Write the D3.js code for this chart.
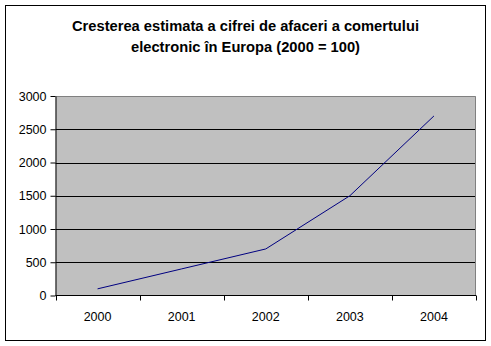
<!DOCTYPE html>
<html>
<head>
<meta charset="utf-8">
<script src="https://cdn.jsdelivr.net/npm/d3@7"></script>
<style>
  html, body { margin: 0; padding: 0; background: #fff; }
  svg { display: block; }
  text { font-family: Arial, "Liberation Sans", sans-serif; fill: #000; }
</style>
</head>
<body>
<svg id="chart" width="491" height="346"></svg>
<script>
// Series: estimated e-commerce turnover growth in Europe (index, 2000 = 100)
const years = ["2000", "2001", "2002", "2003", "2004"];
const values = [100, 400, 700, 1500, 2700];
const yTicks = [0, 500, 1000, 1500, 2000, 2500, 3000];
const titleLines = ["Cresterea estimata a cifrei de afaceri a comertului",
                    "electronic în Europa (2000 = 100)"];

const svg = d3.select("#chart");
const plot = { left: 55.5, right: 476, top: 96, bottom: 295.5 };

// Outer chart frame
svg.append("rect")
  .attr("x", 5.5).attr("y", 5.5)
  .attr("width", 480).attr("height", 335)
  .attr("fill", "#fff").attr("stroke", "#000").attr("stroke-width", 1);

// Title
svg.append("g").selectAll("text")
  .data(titleLines).join("text")
  .attr("x", 245.5)
  .attr("y", (d, i) => 31 + i * 20.5)
  .attr("text-anchor", "middle")
  .style("font-size", "14.7px")
  .style("font-weight", "bold")
  .text(d => d);

const x = d3.scaleBand().domain(years).range([plot.left, plot.right]).padding(0);
const y = d3.scaleLinear().domain([0, 3000]).range([plot.bottom, plot.top]);

// Plot area background
svg.append("rect")
  .attr("x", plot.left).attr("y", plot.top)
  .attr("width", plot.right - plot.left).attr("height", plot.bottom - plot.top)
  .attr("fill", "#c0c0c0");

// Horizontal gridlines
svg.append("g").selectAll("line")
  .data(yTicks.filter(v => v > 0 && v < 3000)).join("line")
  .attr("x1", plot.left).attr("x2", plot.right)
  .attr("y1", d => Math.round(y(d)) + 0.5).attr("y2", d => Math.round(y(d)) + 0.5)
  .attr("stroke", "#000").attr("stroke-width", 1);

// Plot area border (top / right)
svg.append("path")
  .attr("d", `M${plot.left},${plot.top + 0.5}H${plot.right - 0.5}V${plot.bottom}`)
  .attr("fill", "none").attr("stroke", "#808080").attr("stroke-width", 1);

// Y axis
const yAxis = d3.axisLeft(y).tickValues(yTicks).tickFormat(d3.format("d"))
  .tickSize(5).tickPadding(4).tickSizeOuter(0);
const gy = svg.append("g").attr("transform", `translate(${plot.left},0)`).call(yAxis);
gy.select(".domain").attr("stroke", "#000");
gy.selectAll(".tick line").attr("stroke", "#000");
gy.selectAll(".tick text").style("font-size", "12.5px")
  .style("font-family", "Arial, 'Liberation Sans', sans-serif").attr("fill", "#000");

// X axis: ticks on category boundaries
const boundaries = years.map(d => x(d)).concat([plot.right]);
const gx = svg.append("g");
gx.append("line")
  .attr("x1", plot.left).attr("x2", plot.right)
  .attr("y1", plot.bottom).attr("y2", plot.bottom)
  .attr("stroke", "#000");
gx.selectAll("line.tk").data(boundaries).join("line")
  .attr("class", "tk")
  .attr("x1", d => Math.round(d) + 0.5).attr("x2", d => Math.round(d) + 0.5)
  .attr("y1", plot.bottom).attr("y2", plot.bottom + 5)
  .attr("stroke", "#000");
gx.selectAll("text").data(years).join("text")
  .attr("x", d => x(d) + x.bandwidth() / 2)
  .attr("y", 321)
  .attr("text-anchor", "middle")
  .style("font-size", "12.5px")
  .text(d => d);

// Data line
const line = d3.line()
  .x((d, i) => x(years[i]) + x.bandwidth() / 2)
  .y(d => y(d));
svg.append("path")
  .datum(values)
  .attr("d", line)
  .attr("fill", "none")
  .attr("stroke", "#000080")
  .attr("stroke-width", 1);
</script>
</body>
</html>
